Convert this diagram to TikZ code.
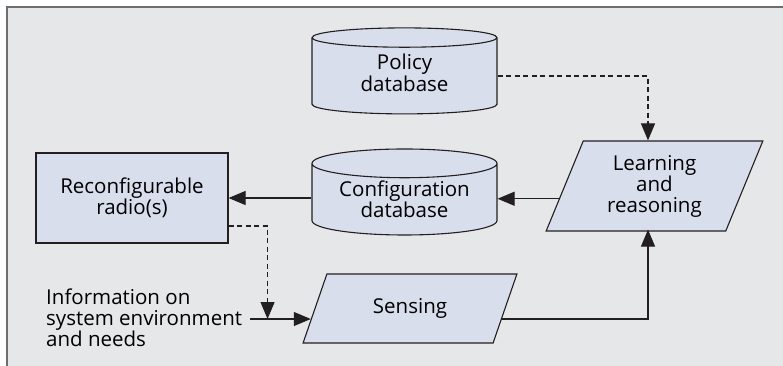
\documentclass[tikz,border=0pt]{standalone}
\usepackage{fontspec}
\setmainfont{Open Sans}
\usetikzlibrary{shapes.geometric, arrows.meta, backgrounds, calc, positioning}

\definecolor{panelgray}{HTML}{E6E7E8}
\definecolor{framegray}{HTML}{6D6E70}
\definecolor{boxblue}{HTML}{D9DEEC}
\definecolor{inkblack}{HTML}{231F20}

\begin{document}
\begin{tikzpicture}[x=1pt, y=-1pt, font=\fontsize{20.5}{21}\selectfont]

% Styles
\tikzset{
    database/.style={cylinder, shape border rotate=90, aspect=0.22, draw=inkblack, fill=boxblue, line width=1.1pt, minimum width=185pt, minimum height=86pt, align=center, inner sep=0pt},
    radiobox/.style={rectangle, draw=inkblack, fill=boxblue, line width=1.1pt, minimum width=192pt, minimum height=90pt, align=center},
    slanted/.style={trapezium, trapezium stretches=true, draw=inkblack, fill=boxblue, line width=1.1pt, align=center},
    arrow/.style={-{Triangle[length=17pt, width=14pt]}, draw=inkblack, line width=1.1pt},
    dasharrow/.style={arrow, dash pattern=on 5pt off 3.5pt}
}

\useasboundingbox (0,0) rectangle (783,366);
\fill[panelgray] (7,7) rectangle (783,366);
\draw[framegray, line width=2pt] (7,366) -- (7,7) -- (783,7);

% Nodes
\node (policy) [database] at (404.5,76) {\raisebox{-5pt}{\begin{tabular}{@{}c@{}}Policy\\database\end{tabular}}};
\node (config) [database, below=34pt of policy] {Configuration\\database};
\node (radio) [radiobox] at (132,198) {Reconfigurable\\radio(s)};
\node (learn) [slanted, trapezium left angle=69, trapezium right angle=111, minimum width=217pt, minimum height=90pt] at (654.5,186) {Learning\\and\\reasoning};
\node (sense) [slanted, trapezium left angle=66.5, trapezium right angle=113.5, minimum width=214pt, minimum height=69pt] at (410,308.5) {Sensing};
\node (info) [align=left, anchor=west, inner sep=0pt] at (46,318) {Information on\\system environment\\and needs};

% Helper points on the slanted sides
\coordinate (tap) at ([xshift=-6.5pt]learn.center);
\coordinate (learnin) at ($(learn.bottom left corner)!.36!(learn.top left corner)$);
\coordinate (senseout) at ($(sense.bottom right corner)!.35!(sense.top right corner)$);
\coordinate (sensein) at ($(sense.bottom left corner)!.35!(sense.top left corner)$);
\coordinate (infoout) at ([xshift=8pt]info.east |- sensein);

% Arrows
\draw [dasharrow] (policy) -| (tap |- learn.north);
\draw [arrow] (learnin) -- (learnin -| config.east);
\draw [arrow] (config.west |- radio) -- (radio.east);
\draw [arrow] (senseout) -| ([yshift=2pt]tap |- learn.south);
\draw [arrow] (infoout) -- (sensein);
\draw [dasharrow] ([yshift=-28pt]radio.east) -| ([xshift=39pt]radio.east |- sensein);

\end{tikzpicture}
\end{document}
